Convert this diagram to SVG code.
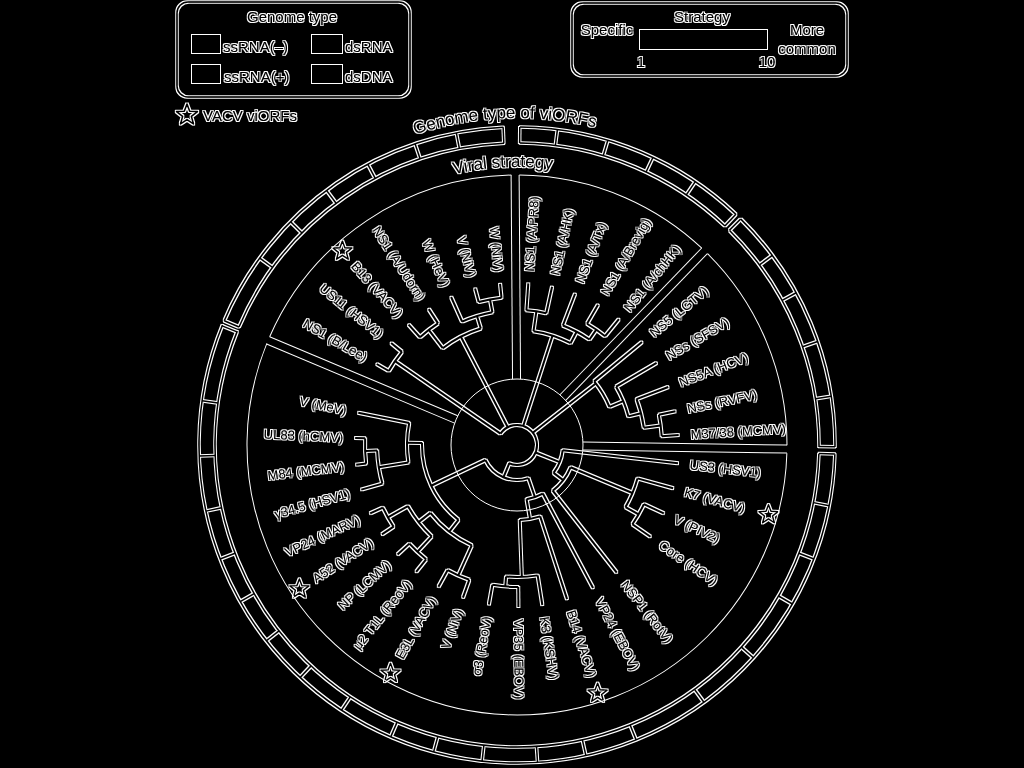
<svg xmlns="http://www.w3.org/2000/svg" xmlns:xlink="http://www.w3.org/1999/xlink" width="1024" height="768" viewBox="0 0 1024 768">
<defs>
<style>
.br{fill:none;stroke:#fff;stroke-width:2}
.thin{fill:none;stroke:#fff;stroke-width:1}
.band{fill:none;stroke:#fff;stroke-width:1.5}
.box{fill:none;stroke:#fff;stroke-width:1.5}
.sw{fill:#fff}
.lbl{font-family:"Liberation Sans",Arial,sans-serif;font-size:13px;fill:#fff}
.l{text-anchor:end}
.lg{font-family:"Liberation Sans",Arial,sans-serif;font-size:15px;fill:#fff}
.cap{font-family:"Liberation Sans",Arial,sans-serif;font-size:17px;fill:#fff}
.mid{text-anchor:middle}
.star{fill:none;stroke:#fff;stroke-width:1.4;stroke-linejoin:round}
</style>
<filter id="edge" filterUnits="userSpaceOnUse" x="0" y="0" width="1024" height="768" color-interpolation-filters="sRGB">
<feMorphology in="SourceAlpha" operator="dilate" radius="1" result="d"/>
<feComposite in="d" in2="SourceAlpha" operator="out" result="o"/>
<feFlood flood-color="#fff" result="w"/>
<feComposite in="w" in2="o" operator="in"/>
</filter>
<path id="star" class="star" d="M0,-10 L2.47,-3.4 L9.51,-3.09 L3.99,1.3 L5.88,8.09 L0,4.2 L-5.88,8.09 L-3.99,1.3 L-9.51,-3.09 L-2.47,-3.4 Z"/>
<path id="arcVS" d="M276.25,306 A278,278 0 0 1 757.75,306"/>
<path id="arcGT" d="M233.81,281.5 A327,327 0 0 1 800.19,281.5"/>
</defs>
<rect width="1024" height="768" fill="#000"/>

<g id="wedges" class="thin" transform="translate(517,445)">
<circle r="66"/>
<circle r="270" transform="rotate(-156.35)" stroke-dasharray="306.78 8.01 201.22 8.01 212.76 8.01 943.66 8.01"/>
<g transform="rotate(-90.4)"><line x1="66" y1="-4" x2="270" y2="-4"/><line x1="66" y1="4" x2="270" y2="4"/></g>
<g transform="rotate(-46)"><line x1="66" y1="-4" x2="270" y2="-4"/><line x1="66" y1="4" x2="270" y2="4"/></g>
<g transform="rotate(0.85)"><line x1="66" y1="-4" x2="270" y2="-4"/><line x1="66" y1="4" x2="270" y2="4"/></g>
<g transform="rotate(-157.2)"><line x1="66" y1="-4" x2="270" y2="-4"/><line x1="66" y1="4" x2="270" y2="4"/></g>
</g>

<g filter="url(#edge)">

<g id="legend-genome">
<rect class="box" x="177" y="2" width="233" height="95" rx="11"/>
<text class="lg mid" x="292" y="22">Genome type</text>
<rect class="sw" x="192" y="35" width="28" height="18"/>
<text class="lg" x="223" y="52">ssRNA(–)</text>
<rect class="sw" x="312" y="35" width="30" height="18"/>
<text class="lg" x="345" y="52">dsRNA</text>
<rect class="sw" x="192" y="65" width="28" height="18"/>
<text class="lg" x="224" y="82">ssRNA(+)</text>
<rect class="sw" x="312" y="65" width="30" height="18"/>
<text class="lg" x="345" y="82">dsDNA</text>
</g>
<g id="legend-star">
<use xlink:href="#star" transform="translate(187,115) scale(1.1)"/>
<text class="lg" x="203" y="121">VACV viORFs</text>
</g>
<g id="legend-strategy">
<rect class="box" x="572" y="3" width="275" height="73" rx="11"/>
<text class="lg mid" x="702" y="22">Strategy</text>
<text class="lg mid" x="607" y="35">Specific</text>
<rect class="sw" x="640" y="30" width="127" height="19"/>
<text class="lg mid" x="807" y="35">More</text>
<text class="lg mid" x="807" y="54">common</text>
<text class="lg mid" x="641" y="67">1</text>
<text class="lg mid" x="767" y="67">10</text>
</g>

<g id="titles">
<text class="cap"><textPath xlink:href="#arcGT" href="#arcGT" startOffset="48.2%" text-anchor="middle">Genome type of viORFs</textPath></text>
<text class="cap"><textPath xlink:href="#arcVS" href="#arcVS" startOffset="47.6%" text-anchor="middle">Viral strategy</textPath></text>
</g>

<g id="ring" class="band" transform="translate(517,445)">
<circle r="302" transform="rotate(-157)" stroke-dasharray="339.97 15.81 226.64 6.32 240.35 6.85 1056.27 5.27"/>
<circle r="318" transform="rotate(-157)" stroke-dasharray="357.98 16.65 238.65 6.66 253.08 7.22 1112.24 5.55"/>
<line x1="302" x2="318" transform="rotate(-157)"/>
<line x1="302" x2="318" transform="rotate(-92.5)"/>
<line x1="302" x2="318" transform="rotate(-89.5)"/>
<line x1="302" x2="318" transform="rotate(-46.5)"/>
<line x1="302" x2="318" transform="rotate(-45.3)"/>
<line x1="302" x2="318" transform="rotate(0.3)"/>
<line x1="302" x2="318" transform="rotate(1.6)"/>
<line x1="302" x2="318" transform="rotate(202)"/>
<line x1="302" x2="318" transform="rotate(-144)"/>
<line x1="302" x2="318" transform="rotate(-135.4)"/>
<line x1="302" x2="318" transform="rotate(-126.8)"/>
<line x1="302" x2="318" transform="rotate(-118)"/>
<line x1="302" x2="318" transform="rotate(-108.7)"/>
<line x1="302" x2="318" transform="rotate(-101)"/>
<line x1="302" x2="318" transform="rotate(-82.7)"/>
<line x1="302" x2="318" transform="rotate(-73.4)"/>
<line x1="302" x2="318" transform="rotate(-64.7)"/>
<line x1="302" x2="318" transform="rotate(-55.9)"/>
<line x1="302" x2="318" transform="rotate(-36.6)"/>
<line x1="302" x2="318" transform="rotate(-28.6)"/>
<line x1="302" x2="318" transform="rotate(-19)"/>
<line x1="302" x2="318" transform="rotate(-8.8)"/>
<line x1="302" x2="318" transform="rotate(11)"/>
<line x1="302" x2="318" transform="rotate(21)"/>
<line x1="302" x2="318" transform="rotate(30)"/>
<line x1="302" x2="318" transform="rotate(42)"/>
<line x1="302" x2="318" transform="rotate(54)"/>
<line x1="302" x2="318" transform="rotate(68)"/>
<line x1="302" x2="318" transform="rotate(77.5)"/>
<line x1="302" x2="318" transform="rotate(86.3)"/>
<line x1="302" x2="318" transform="rotate(96.3)"/>
<line x1="302" x2="318" transform="rotate(105.2)"/>
<line x1="302" x2="318" transform="rotate(113.4)"/>
<line x1="302" x2="318" transform="rotate(123.5)"/>
<line x1="302" x2="318" transform="rotate(133)"/>
<line x1="302" x2="318" transform="rotate(142)"/>
<line x1="302" x2="318" transform="rotate(150.5)"/>
<line x1="302" x2="318" transform="rotate(159)"/>
<line x1="302" x2="318" transform="rotate(168)"/>
<line x1="302" x2="318" transform="rotate(178)"/>
<line x1="302" x2="318" transform="rotate(188)"/>
</g>

<g id="connectors" class="br" transform="translate(517,445)">
<circle r="20" transform="rotate(-145.5)" stroke-dasharray="90.16 2000"/>
<line x1="148" x2="162" transform="rotate(-96)"/>
<line x1="148" x2="162" transform="rotate(-105)"/>
<line x1="135" x2="162" transform="rotate(-114)"/>
<line x1="145" x2="162" transform="rotate(-123)"/>
<line x1="145" x2="162" transform="rotate(-132)"/>
<line x1="148" x2="162" transform="rotate(-141)"/>
<line x1="148" x2="162" transform="rotate(-150)"/>
<circle r="148" transform="rotate(-105)" stroke-dasharray="23.25 2000"/>
<line x1="135" x2="148" transform="rotate(-100.5)"/>
<circle r="135" transform="rotate(-114)" stroke-dasharray="31.81 2000"/>
<line x1="122" x2="135" transform="rotate(-107.25)"/>
<circle r="145" transform="rotate(-132)" stroke-dasharray="22.78 2000"/>
<line x1="122" x2="145" transform="rotate(-127.5)"/>
<circle r="122" transform="rotate(-127.5)" stroke-dasharray="43.12 2000"/>
<line x1="20" x2="122" transform="rotate(-117.4)"/>
<circle r="148" transform="rotate(-150)" stroke-dasharray="23.25 2000"/>
<line x1="20" x2="148" transform="rotate(-145.5)"/>

<line x1="135" x2="162" transform="rotate(-86)"/>
<line x1="135" x2="162" transform="rotate(-77.5)"/>
<line x1="128" x2="162" transform="rotate(-69)"/>
<line x1="140" x2="162" transform="rotate(-60)"/>
<line x1="140" x2="162" transform="rotate(-51)"/>
<circle r="135" transform="rotate(-86)" stroke-dasharray="20.03 2000"/>
<line x1="115" x2="135" transform="rotate(-81.75)"/>
<circle r="140" transform="rotate(-60)" stroke-dasharray="21.99 2000"/>
<line x1="128" x2="140" transform="rotate(-55.5)"/>
<circle r="128" transform="rotate(-69)" stroke-dasharray="30.16 2000"/>
<line x1="115" x2="128" transform="rotate(-62.25)"/>
<circle r="115" transform="rotate(-81.75)" stroke-dasharray="39.14 2000"/>
<line x1="20" x2="115" transform="rotate(-72)"/>

<line x1="100" x2="162" transform="rotate(-39.5)"/>
<line x1="115" x2="162" transform="rotate(-30.5)"/>
<line x1="128" x2="162" transform="rotate(-21)"/>
<line x1="145" x2="162" transform="rotate(-12)"/>
<line x1="145" x2="162" transform="rotate(-3.5)"/>
<circle r="145" transform="rotate(-12)" stroke-dasharray="21.51 2000"/>
<line x1="128" x2="145" transform="rotate(-7.75)"/>
<circle r="128" transform="rotate(-21)" stroke-dasharray="29.6 2000"/>
<line x1="115" x2="128" transform="rotate(-14.4)"/>
<circle r="115" transform="rotate(-30.5)" stroke-dasharray="32.31 2000"/>
<line x1="100" x2="115" transform="rotate(-22.45)"/>
<circle r="100" transform="rotate(-39.5)" stroke-dasharray="29.76 2000"/>
<line x1="20" x2="100" transform="rotate(-38)"/>

<line x1="46" x2="162" transform="rotate(6.5)"/>
<line x1="125" x2="162" transform="rotate(15.5)"/>
<line x1="140" x2="162" transform="rotate(25)"/>
<line x1="140" x2="162" transform="rotate(34.5)"/>
<line x1="58" x2="162" transform="rotate(52)"/>
<line x1="55" x2="162" transform="rotate(62)"/>
<line x1="75" x2="162" transform="rotate(72)"/>
<line x1="132" x2="162" transform="rotate(81)"/>
<line x1="142" x2="162" transform="rotate(89.5)"/>
<line x1="142" x2="162" transform="rotate(100)"/>
<line x1="143" x2="162" transform="rotate(109.5)"/>
<line x1="143" x2="162" transform="rotate(119)"/>
<line x1="146" x2="162" transform="rotate(128.5)"/>
<line x1="146" x2="162" transform="rotate(137.5)"/>
<line x1="148" x2="162" transform="rotate(146.5)"/>
<line x1="148" x2="162" transform="rotate(155)"/>
<line x1="140" x2="162" transform="rotate(164)"/>
<line x1="152" x2="162" transform="rotate(173)"/>
<line x1="152" x2="162" transform="rotate(182.5)"/>
<line x1="110" x2="162" transform="rotate(191.5)"/>
<circle r="142" transform="rotate(89.5)" stroke-dasharray="26.02 2000"/>
<line x1="132" x2="142" transform="rotate(94.75)"/>
<circle r="132" transform="rotate(81)" stroke-dasharray="31.68 2000"/>
<line x1="75" x2="132" transform="rotate(87.9)"/>
<circle r="75" transform="rotate(72)" stroke-dasharray="20.81 2000"/>
<line x1="55" x2="75" transform="rotate(80)"/>
<circle r="55" transform="rotate(62)" stroke-dasharray="17.28 2000"/>
<line x1="35" x2="55" transform="rotate(71)"/>
<circle r="140" transform="rotate(25)" stroke-dasharray="23.21 2000"/>
<line x1="125" x2="140" transform="rotate(29.75)"/>
<circle r="125" transform="rotate(15.5)" stroke-dasharray="31.09 2000"/>
<line x1="58" x2="125" transform="rotate(22.6)"/>
<circle r="58" transform="rotate(22.6)" stroke-dasharray="29.76 2000"/>
<line x1="46" x2="58" transform="rotate(37.3)"/>
<circle r="46" transform="rotate(6.5)" stroke-dasharray="24.73 2000"/>
<line x1="20" x2="46" transform="rotate(21.9)"/>
<circle r="143" transform="rotate(109.5)" stroke-dasharray="23.71 2000"/>
<line x1="110" x2="143" transform="rotate(114.25)"/>
<circle r="146" transform="rotate(128.5)" stroke-dasharray="22.93 2000"/>
<line x1="125" x2="146" transform="rotate(133)"/>
<circle r="148" transform="rotate(146.5)" stroke-dasharray="21.96 2000"/>
<line x1="125" x2="148" transform="rotate(150.75)"/>
<circle r="152" transform="rotate(173)" stroke-dasharray="25.2 2000"/>
<line x1="140" x2="152" transform="rotate(177.75)"/>
<circle r="140" transform="rotate(164)" stroke-dasharray="33.6 2000"/>
<line x1="110" x2="140" transform="rotate(170.9)"/>
<circle r="110" transform="rotate(170.9)" stroke-dasharray="39.55 2000"/>
<line x1="95" x2="110" transform="rotate(181.2)"/>
<circle r="125" transform="rotate(133)" stroke-dasharray="38.72 2000"/>
<line x1="110" x2="125" transform="rotate(141.9)"/>
<circle r="110" transform="rotate(114.25)" stroke-dasharray="53.08 2000"/>
<line x1="95" x2="110" transform="rotate(128)"/>
<circle r="95" transform="rotate(128)" stroke-dasharray="88.21 2000"/>
<line x1="35" x2="95" transform="rotate(154.6)"/>
<circle r="35" transform="rotate(71)" stroke-dasharray="51.07 2000"/>
<line x1="20" x2="35" transform="rotate(112.8)"/>
</g>

<g id="leaves" class="lbl">
<g id="n-blee"><text class="l" transform="translate(517,445) rotate(-150) rotate(180)" x="-174" dy="0.35em">NS1 (B/Lee)</text></g>
<g id="n-us11"><text class="l" transform="translate(517,445) rotate(-141) rotate(180)" x="-174" dy="0.35em">US11 (HSV1)</text></g>
<g id="n-b13"><text class="l" transform="translate(517,445) rotate(-132) rotate(180)" x="-174" dy="0.35em">B13 (VACV)</text><use xlink:href="#star" x="342.4" y="251.1"/></g>
<g id="n-udorn"><text class="l" transform="translate(517,445) rotate(-123) rotate(180)" x="-174" dy="0.35em">NS1 (A/Udorn)</text></g>
<g id="n-w-hev"><text class="l" transform="translate(517,445) rotate(-114) rotate(180)" x="-174" dy="0.35em">W (HeV)</text></g>
<g id="n-v-niv"><text class="l" transform="translate(517,445) rotate(-105) rotate(180)" x="-174" dy="0.35em">V (NiV)</text></g>
<g id="n-w-niv"><text class="l" transform="translate(517,445) rotate(-96) rotate(180)" x="-174" dy="0.35em">W (NiV)</text></g>

<g id="n-pr8"><text transform="translate(517,445) rotate(-86)" x="174" dy="0.35em">NS1 (A/PR8)</text></g>
<g id="n-hk"><text transform="translate(517,445) rotate(-77.5)" x="174" dy="0.35em">NS1 (A/HK)</text></g>
<g id="n-tx"><text transform="translate(517,445) rotate(-69)" x="174" dy="0.35em">NS1 (A/Tx)</text></g>
<g id="n-brevig"><text transform="translate(517,445) rotate(-60)" x="174" dy="0.35em">NS1 (A/Brevig)</text></g>
<g id="n-chhk"><text transform="translate(517,445) rotate(-51)" x="174" dy="0.35em">NS1 (A/chHK)</text></g>

<g id="n-lgtv"><text transform="translate(517,445) rotate(-39.5)" x="174" dy="0.35em">NS5 (LGTV)</text></g>
<g id="n-sfsv"><text transform="translate(517,445) rotate(-30.5)" x="174" dy="0.35em">NSs (SFSV)</text></g>
<g id="n-hcv5a"><text transform="translate(517,445) rotate(-21)" x="174" dy="0.35em">NS5A (HCV)</text></g>
<g id="n-rvfv"><text transform="translate(517,445) rotate(-12)" x="174" dy="0.35em">NSs (RVFV)</text></g>
<g id="n-m37"><text transform="translate(517,445) rotate(-3.5)" x="174" dy="0.35em">M37/38 (MCMV)</text></g>

<g id="n-us3"><text transform="translate(517,445) rotate(6.5)" x="174" dy="0.35em">US3 (HSV1)</text></g>
<g id="n-k7"><text transform="translate(517,445) rotate(15.5)" x="174" dy="0.35em">K7 (VACV)</text><use xlink:href="#star" x="768.5" y="514.7"/></g>
<g id="n-piv2"><text transform="translate(517,445) rotate(25)" x="174" dy="0.35em">V (PIV2)</text></g>
<g id="n-core"><text transform="translate(517,445) rotate(34.5)" x="174" dy="0.35em">Core (HCV)</text></g>
<g id="n-nsp1"><text transform="translate(517,445) rotate(52)" x="174" dy="0.35em">NSP1 (RotV)</text></g>
<g id="n-vp24e"><text transform="translate(517,445) rotate(62)" x="174" dy="0.35em">VP24 (EBOV)</text></g>
<g id="n-b14"><text transform="translate(517,445) rotate(72)" x="174" dy="0.35em">B14 (VACV)</text><use xlink:href="#star" x="597.6" y="693.2"/></g>
<g id="n-k3"><text transform="translate(517,445) rotate(81)" x="174" dy="0.35em">K3 (KSHV)</text></g>
<g id="n-vp35"><text transform="translate(517,445) rotate(89.5)" x="174" dy="0.35em">VP35 (EBOV)</text></g>
<g id="n-s3"><text class="l" transform="translate(517,445) rotate(100) rotate(180)" x="-174" dy="0.35em">σ3 (ReoV)</text></g>
<g id="n-v-niv2"><text class="l" transform="translate(517,445) rotate(109.5) rotate(180)" x="-174" dy="0.35em">V (NiV)</text></g>
<g id="n-e3l"><text class="l" transform="translate(517,445) rotate(119) rotate(180)" x="-174" dy="0.35em">E3L (VACV)</text><use xlink:href="#star" x="390.5" y="673.3"/></g>
<g id="n-mu2"><text class="l" transform="translate(517,445) rotate(128.5) rotate(180)" x="-174" dy="0.35em">μ2 T1L (ReoV)</text></g>
<g id="n-np"><text class="l" transform="translate(517,445) rotate(137.5) rotate(180)" x="-174" dy="0.35em">NP (LCMV)</text></g>
<g id="n-a52"><text class="l" transform="translate(517,445) rotate(146.5) rotate(180)" x="-174" dy="0.35em">A52 (VACV)</text><use xlink:href="#star" x="299.4" y="589"/></g>
<g id="n-vp24m"><text class="l" transform="translate(517,445) rotate(155) rotate(180)" x="-174" dy="0.35em">VP24 (MARV)</text></g>
<g id="n-g345"><text class="l" transform="translate(517,445) rotate(164) rotate(180)" x="-174" dy="0.35em">γ34.5 (HSV1)</text></g>
<g id="n-m84"><text class="l" transform="translate(517,445) rotate(173) rotate(180)" x="-174" dy="0.35em">M84 (MCMV)</text></g>
<g id="n-ul83"><text class="l" transform="translate(517,445) rotate(182.5) rotate(180)" x="-174" dy="0.35em">UL83 (hCMV)</text></g>
<g id="n-vmev"><text class="l" transform="translate(517,445) rotate(191.5) rotate(180)" x="-174" dy="0.35em">V (MeV)</text></g>
</g>

</g>
</svg>
